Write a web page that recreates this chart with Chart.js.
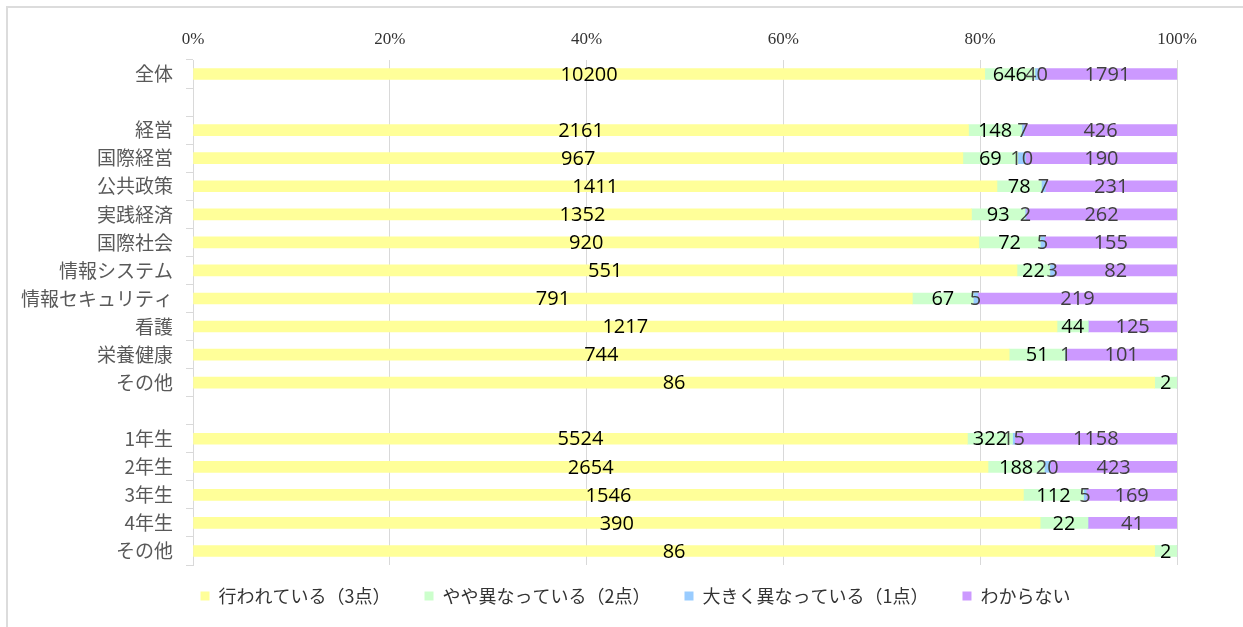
<!DOCTYPE html>
<html>
<head>
<meta charset="utf-8">
<script src="https://cdn.jsdelivr.net/npm/chart.js@4.4.1/dist/chart.umd.min.js"></script>
<style>
  body { margin: 0; background: #fff; }
  #wrap { position: absolute; left: 0; top: 0; width: 1243px; height: 627px; }
  #frame { position: absolute; left: 6px; top: 6px; width: 1300px; height: 700px;
           border-left: 2px solid #dcdcdc; border-top: 2px solid #dcdcdc; }
</style>
</head>
<body>
<div id="wrap">
  <div id="frame"></div>
  <canvas id="chart-hyoka" width="1243" height="627"></canvas>
</div>
<script>
const categories = ['全体', '', '経営', '国際経営', '公共政策', '実践経済', '国際社会', '情報システム',
  '情報セキュリティ', '看護', '栄養健康', 'その他', '', '1年生', '2年生', '3年生', '4年生', 'その他'];

const seriesNames = ['行われている（3点）', 'やや異なっている（2点）', '大きく異なっている（1点）', 'わからない'];

// counts per category (null = spacer row)
const okonawareteiru = [10200, null, 2161, 967, 1411, 1352, 920, 551, 791, 1217, 744, 86, null, 5524, 2654, 1546, 390, 86];
const yaya_kotonaru  = [646, null, 148, 69, 78, 93, 72, 22, 67, 44, 51, 2, null, 322, 188, 112, 22, 2];
const ookiku_kotonaru = [40, null, 7, 10, 7, 2, 5, 3, 5, 0, 1, 0, null, 15, 20, 5, 0, 0];
const wakaranai      = [1791, null, 426, 190, 231, 262, 155, 82, 219, 125, 101, 0, null, 1158, 423, 169, 41, 0];

const xTicks = [0, 20, 40, 60, 80, 100];

const colors = ['#FFFF99', '#CCFFCC', '#99CCFF', '#CC99FF'];
const labelColors = ['#000000', '#000000', '#404040', '#404040'];

const counts = [okonawareteiru, yaya_kotonaru, ookiku_kotonaru, wakaranai];
const totals = categories.map((c, i) =>
  okonawareteiru[i] === null ? null :
  okonawareteiru[i] + yaya_kotonaru[i] + ookiku_kotonaru[i] + wakaranai[i]);
const toPercent = arr => arr.map((v, i) => v === null ? null : v / totals[i] * 100);

// draw the count in the middle of each segment
const segmentLabels = {
  id: 'segmentLabels',
  afterDatasetsDraw(chart) {
    const ctx = chart.ctx;
    ctx.save();
    ctx.font = '20px "Open Sans", "Liberation Sans", sans-serif';
    ctx.textAlign = 'center';
    ctx.textBaseline = 'middle';
    chart.data.datasets.forEach((ds, di) => {
      const meta = chart.getDatasetMeta(di);
      meta.data.forEach((bar, i) => {
        const v = ds.counts[i];
        if (!v) return;
        const p = bar.getCenterPoint();
        ctx.fillStyle = labelColors[di];
        ctx.fillText(String(v), p.x, p.y + 1);
      });
    });
    ctx.restore();
  }
};

// nudge the legend up and right, like the original
const legendShift = {
  id: 'legendShift',
  afterLayout(chart) {
    chart.legend.top -= 12;
    chart.legend.bottom -= 12;
    chart.legend.left += 47;
    chart.legend.right += 47;
  }
};

const el = document.getElementById('chart-hyoka');

new Chart(el, {
  type: 'bar',
  data: {
    labels: categories,
    datasets: seriesNames.map((name, k) => ({
      label: name,
      data: toPercent(counts[k]),
      counts: counts[k],
      backgroundColor: colors[k],
      borderWidth: 0,
      barThickness: 11,
    })),
  },
  options: {
    indexAxis: 'y',
    responsive: false,
    animation: false,
    layout: { padding: { left: 0, right: 66, top: 0, bottom: 0 } },
    scales: {
      x: {
        position: 'top',
        stacked: true,
        min: 0,
        max: 100,
        afterBuildTicks(scale) { scale.ticks = xTicks.map(v => ({ value: v })); },
        afterFit(scale) { scale.height = 60; },
        grid: { color: '#d9d9d9', lineWidth: 1, drawTicks: false },
        border: { display: false },
        ticks: {
          padding: 10,
          color: '#333333',
          font: { family: '"Liberation Serif", "DejaVu Serif", serif', size: 17 },
          callback: v => v + '%',
        },
      },
      y: {
        stacked: true,
        afterFit(scale) { scale.width = 193; },
        grid: { color: '#d9d9d9', drawOnChartArea: false, drawTicks: true, tickLength: 7 },
        border: { display: true, color: '#d9d9d9', width: 1 },
        ticks: {
          padding: 13,
          color: '#595959',
          autoSkip: false,
          font: { family: '"Noto Sans CJK JP", sans-serif', size: 19 },
        },
      },
    },
    plugins: {
      legend: {
        position: 'bottom',
        labels: {
          boxWidth: 9,
          boxHeight: 9,
          padding: 34,
          color: '#333333',
          font: { family: '"Noto Sans CJK JP", sans-serif', size: 18 },
        },
      },
      tooltip: { enabled: false },
    },
  },
  plugins: [segmentLabels, legendShift],
});
</script>
</body>
</html>
